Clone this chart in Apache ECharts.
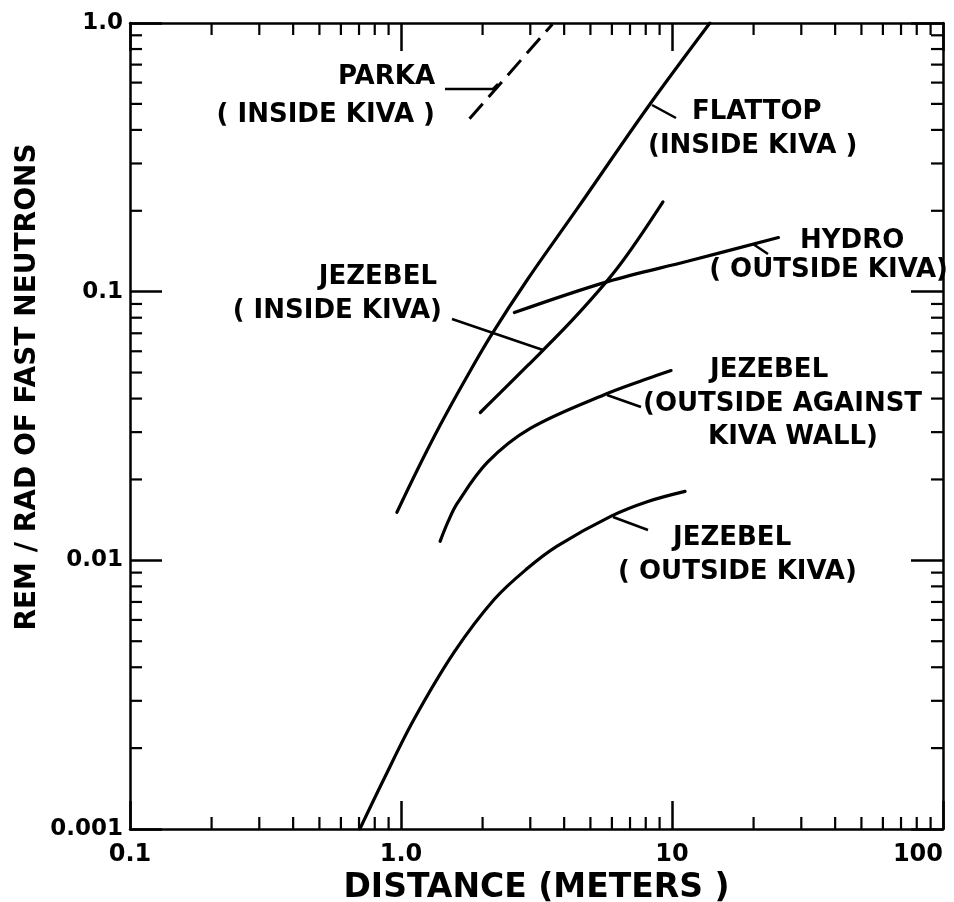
<!DOCTYPE html>
<html>
<head>
<meta charset="utf-8">
<script src="https://cdn.jsdelivr.net/npm/echarts@6/dist/echarts.min.js"></script>
<style>
html,body{margin:0;padding:0;background:#fff;}
#chart{width:954px;height:902px;}
</style>
</head>
<body>
<div id="chart"></div>
<script>
// ---- data ----
const xRange = [0.1, 100];
const yRange = [0.001, 1];
const xTickLabels = ['0.1', '1.0', '10', '100'];
const yTickLabels = ['0.001', '0.01', '0.1', '1.0'];
const xMinor = [0.2,0.3,0.4,0.5,0.6,0.7,0.8,0.9, 2,3,4,5,6,7,8,9, 20,30,40,50,60,70,80,90];
const yMinor = [0.002,0.003,0.004,0.005,0.006,0.007,0.008,0.009, 0.02,0.03,0.04,0.05,0.06,0.07,0.08,0.09, 0.2,0.3,0.4,0.5,0.6,0.7,0.8,0.9];

const parka = [[1.79, 0.44], [3.62, 0.99]];
const flattop = [[0.966,0.0151],[1.146,0.0216],[1.394,0.0318],[1.711,0.0463],[2.136,0.068],[2.929,0.111],[4.49,0.205],[8.15,0.487],[13.8,1.0]];
const jezebelInside = [[1.962,0.0355],[2.93,0.053],[4.37,0.080],[6.31,0.123],[9.26,0.216]];
const hydro = [[2.62,0.0836],[5.79,0.109],[11.5,0.130],[24.7,0.159]];
const jezebelWall = [[1.394,0.01177],[1.493,0.01396],[1.612,0.01628],[2.082,0.02313],[3.0,0.03096],[5.65,0.0414],[8.15,0.04749],[9.92,0.05085]];
const jezebelOutside = [[0.705,0.001],[0.865,0.001535],[1.117,0.00256],[1.571,0.00455],[2.21,0.00716],[2.93,0.00934],[3.78,0.01132],[5.94,0.01458],[8.15,0.01656],[11.17,0.01806]];

// ---- chart ----
const FONT = '"DejaVu Sans", "Liberation Sans", sans-serif';
const chart = echarts.init(document.getElementById('chart'), null, {renderer: 'canvas'});

function decadeLabel(labels, minV) {
  return function (v) {
    const i = Math.round(Math.log10(v) - Math.log10(minV));
    return labels[i] !== undefined ? labels[i] : '';
  };
}

const axisLineStyle = {color: '#000', width: 2.5};
function xAxisDef(pos, showLabel) {
  return {
    type: 'log', logBase: 10, min: xRange[0], max: xRange[1], position: pos,
    splitNumber: 3,
    axisLine: {show: true, lineStyle: axisLineStyle},
    axisTick: {show: true, inside: true, length: 28, lineStyle: {color: '#000', width: 2.5}},
    minorTick: {show: false},
    splitLine: {show: false},
    axisLabel: {
      show: showLabel, formatter: decadeLabel(xTickLabels, xRange[0]), margin: 14,
      color: '#000', fontSize: 24, fontWeight: 'bold', fontFamily: FONT,
      alignMaxLabel: 'right'
    },
    name: showLabel ? 'DISTANCE (METERS )' : '',
    nameLocation: 'middle', nameGap: 38,
    nameTextStyle: {color: '#000', fontSize: 33, fontWeight: 'bold', fontFamily: FONT}
  };
}
function yAxisDef(pos, showLabel) {
  return {
    type: 'log', logBase: 10, min: yRange[0], max: yRange[1], position: pos,
    splitNumber: 3,
    axisLine: {show: true, lineStyle: axisLineStyle},
    axisTick: {show: true, inside: true, length: 32, lineStyle: {color: '#000', width: 2.5}},
    minorTick: {show: false},
    splitLine: {show: false},
    axisLabel: {
      show: showLabel, formatter: decadeLabel(yTickLabels, yRange[0]), margin: 7,
      color: '#000', fontSize: 23, fontWeight: 'bold', fontFamily: FONT
    }
  };
}

function curve(name, data, extra) {
  return Object.assign({
    name: name, type: 'line', data: data, showSymbol: false, symbol: 'none',
    smooth: 0.35, xAxisIndex: 0, yAxisIndex: 0,
    lineStyle: {color: '#000', width: 3.2, cap: 'round'}, silent: true, z: 3
  }, extra || {});
}

const TICK = 12;
const minorX = {
  type: 'custom', xAxisIndex: 0, yAxisIndex: 0, clip: false, silent: true, z: 4,
  data: xMinor.map(v => [v, yRange[0]]),
  renderItem: function (params, api) {
    const v = api.value(0);
    const b = api.coord([v, yRange[0]]);
    const t = api.coord([v, yRange[1]]);
    const st = {stroke: '#000', lineWidth: 2.2};
    return {type: 'group', children: [
      {type: 'line', shape: {x1: b[0], y1: b[1], x2: b[0], y2: b[1] - TICK}, style: st},
      {type: 'line', shape: {x1: t[0], y1: t[1], x2: t[0], y2: t[1] + TICK}, style: st}
    ]};
  }
};
const minorY = {
  type: 'custom', xAxisIndex: 0, yAxisIndex: 0, clip: false, silent: true, z: 4,
  data: yMinor.map(v => [xRange[0], v]),
  renderItem: function (params, api) {
    const v = api.value(1);
    const l = api.coord([xRange[0], v]);
    const r = api.coord([xRange[1], v]);
    const st = {stroke: '#000', lineWidth: 2.2};
    return {type: 'group', children: [
      {type: 'line', shape: {x1: l[0], y1: l[1], x2: l[0] + TICK, y2: l[1]}, style: st},
      {type: 'line', shape: {x1: r[0], y1: r[1], x2: r[0] - TICK, y2: r[1]}, style: st}
    ]};
  }
};

function txt(s, x, y, align, size) {
  return {
    type: 'text', silent: true, z: 10,
    style: {
      text: s, x: x, y: y, fill: '#000',
      font: 'bold ' + (size || 26) + 'px ' + FONT,
      align: align || 'left', verticalAlign: 'middle',
      textAlign: align || 'left', textVerticalAlign: 'middle'
    }
  };
}
function leader(points) {
  return {type: 'polyline', silent: true, z: 10, shape: {points: points},
    style: {stroke: '#000', lineWidth: 2.5, fill: null}};
}

const option = {
  animation: false,
  backgroundColor: '#fff',
  grid: {left: 130, right: 11, top: 23, bottom: 73, containLabel: false, outerBoundsMode: 'none'},
  xAxis: [xAxisDef('bottom', true), xAxisDef('top', false)],
  yAxis: [yAxisDef('left', true), yAxisDef('right', false)],
  series: [
    curve('PARKA (INSIDE KIVA)', parka, {smooth: false, lineStyle: {color: '#000', width: 3, type: [20, 9]}}),
    curve('FLATTOP (INSIDE KIVA)', flattop),
    curve('JEZEBEL (INSIDE KIVA)', jezebelInside),
    curve('HYDRO (OUTSIDE KIVA)', hydro),
    curve('JEZEBEL (OUTSIDE AGAINST KIVA WALL)', jezebelWall),
    curve('JEZEBEL (OUTSIDE KIVA)', jezebelOutside),
    minorX, minorY
  ],
  graphic: [
    {
      type: 'text', silent: true, z: 10, x: 28, y: 387, rotation: Math.PI / 2,
      style: {text: 'REM / RAD OF FAST NEUTRONS', x: 0, y: 0, fill: '#000',
        font: 'bold 28px ' + FONT, align: 'center', verticalAlign: 'middle',
        textAlign: 'center', textVerticalAlign: 'middle'}
    },
    txt('PARKA', 435, 77, 'right'),
    txt('( INSIDE KIVA )', 435, 115, 'right'),
    leader([[445, 89], [493, 89], [498, 84]]),
    txt('FLATTOP', 692, 112),
    txt('(INSIDE KIVA )', 648, 146),
    leader([[652, 105], [676, 118]]),
    txt('JEZEBEL', 437, 277, 'right'),
    txt('( INSIDE KIVA)', 442, 311, 'right'),
    leader([[452, 319], [543, 350]]),
    txt('HYDRO', 800, 241),
    txt('( OUTSIDE KIVA)', 948, 270, 'right'),
    leader([[753, 244], [768, 254]]),
    txt('JEZEBEL', 710, 370),
    txt('(OUTSIDE AGAINST', 643, 404),
    txt('KIVA WALL)', 708, 437),
    leader([[607, 395], [641, 407]]),
    txt('JEZEBEL', 673, 538),
    txt('( OUTSIDE KIVA)', 618, 572),
    leader([[613, 517], [648, 530]])
  ]
};
chart.setOption(option);
</script>
</body>
</html>
